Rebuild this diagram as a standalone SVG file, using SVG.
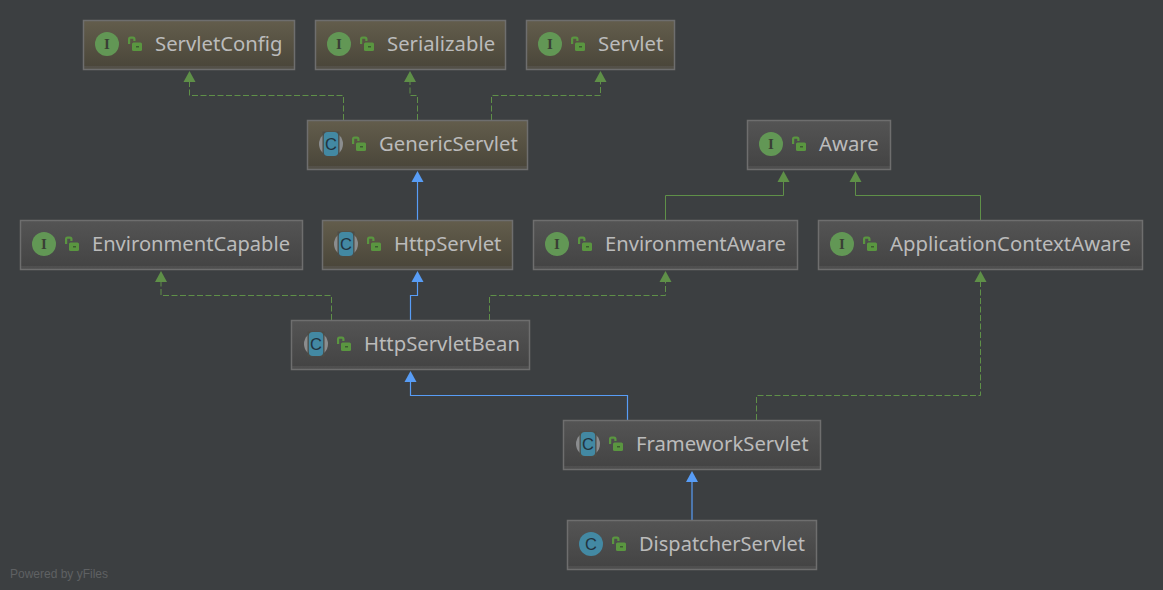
<svg xmlns="http://www.w3.org/2000/svg" width="1163" height="590" viewBox="0 0 1163 590">
<style>
text{font-family:"Noto Sans","DejaVu Sans",sans-serif}
.box{stroke:#6e6e6e;stroke-width:1.5}
.olive{fill:url(#og)}.grey{fill:url(#gg)}
.foot{fill:#6a6a6a;opacity:.3}
.n{font-size:20.3px;fill:#bbbbbb}
.li{font-family:"Liberation Serif",serif;font-size:15px;font-weight:bold;fill:#3a3f35;text-anchor:middle}
.lc{font-family:"Liberation Sans",sans-serif;font-size:16.500px;fill:#22333e;text-anchor:middle}
.impl{fill:none;stroke:#5f9048;stroke-width:1;stroke-dasharray:6 2.500}
.sub{fill:none;stroke:#5f9048;stroke-width:1}
.ext{fill:none;stroke:#589df6;stroke-width:1.2}
.ag{fill:#5f9048}.ab{fill:#589df6}
.wm{font-family:"Liberation Sans",sans-serif;font-size:12px;fill:#5f6163}
</style>
<defs>
<linearGradient id="og" x1="0" y1="0" x2="0" y2="1"><stop offset="0" stop-color="#635d4c"/><stop offset="1" stop-color="#494539"/></linearGradient>
<linearGradient id="gg" x1="0" y1="0" x2="0" y2="1"><stop offset="0" stop-color="#545454"/><stop offset="1" stop-color="#434343"/></linearGradient>
<symbol id="lock" overflow="visible"><path d="M1.100 7.500V2.500Q1.100 1.100 2.500 1.100H5Q6.400 1.100 6.400 2.500V4.500" fill="none" stroke="#5a9640" stroke-width="2.200"/><rect x="4" y="6" width="10" height="8.500" rx="1.500" fill="#5a9640"/><rect x="8" y="9.500" width="3" height="1.500" fill="#3c5c30"/></symbol>
<g id="iconI"><circle r="12" fill="#629755"/></g>
<g id="iconC"><circle r="12" fill="#4389a3"/></g>
<g id="iconA"><circle r="12" fill="#8b8d8f"/><rect x="-8.500" y="-12.500" width="17" height="25" fill="#4d4c46"/><rect x="-7.200" y="-12" width="14.400" height="24" rx="4" fill="#4389a3"/></g>
</defs>
<rect width="1163" height="590" fill="#3c3f41"/>
<g id="connectors">
<path class="impl" d="M343.500 120V95.500H189.500V82"/><path class="ag" d="M189.500 71l6 11h-12z"/>
<path class="impl" d="M417.500 120V95.500H410V82"/><path class="ag" d="M410 71l6 11h-12z"/>
<path class="impl" d="M491.500 120V95.500H600.500V82"/><path class="ag" d="M600.500 71l6 11h-12z"/>
<path class="ext" d="M417.500 220V182"/><path class="ab" d="M417.500 171l6 11h-12z"/>
<path class="sub" d="M665.500 220V195.500H783.500V182"/><path class="ag" d="M783.500 171l6 11h-12z"/>
<path class="sub" d="M980.500 220V195.500H855.500V182"/><path class="ag" d="M855.500 171l6 11h-12z"/>
<path class="impl" d="M331.500 320V295.500H161V282"/><path class="ag" d="M161 271l6 11h-12z"/>
<path class="ext" d="M410.500 320V295.500H417.500V282"/><path class="ab" d="M417.500 271l6 11h-12z"/>
<path class="impl" d="M489.500 320V295.500H665.500V282"/><path class="ag" d="M665.500 271l6 11h-12z"/>
<path class="ext" d="M627.500 420V395.500H410.500V382"/><path class="ab" d="M410.500 371l6 11h-12z"/>
<path class="impl" d="M756.500 420V395.500H980.500V282"/><path class="ag" d="M980.500 271l6 11h-12z"/>
<path class="ext" d="M692 520V482"/><path class="ab" d="M692 471l6 11h-12z"/>
</g>
<g id="ServletConfig"><rect class="box olive" x="83.500" y="20.500" width="211" height="49"/><rect class="foot" x="84" y="66" width="210" height="3"/><use href="#iconI" x="107" y="44"/><text class="li" x="107" y="49">I</text><use href="#lock" x="128" y="36.500"/><text class="n" x="155" y="51">ServletConfig</text></g>
<g id="Serializable"><rect class="box olive" x="315.500" y="20.500" width="190" height="49"/><rect class="foot" x="316" y="66" width="189" height="3"/><use href="#iconI" x="339" y="44"/><text class="li" x="339" y="49">I</text><use href="#lock" x="360" y="36.500"/><text class="n" x="387" y="51">Serializable</text></g>
<g id="Servlet"><rect class="box olive" x="526.500" y="20.500" width="148" height="49"/><rect class="foot" x="527" y="66" width="147" height="3"/><use href="#iconI" x="550" y="44"/><text class="li" x="550" y="49">I</text><use href="#lock" x="571" y="36.500"/><text class="n" x="598" y="51">Servlet</text></g>
<g id="GenericServlet"><rect class="box olive" x="307.500" y="120.500" width="220" height="49"/><rect class="foot" x="308" y="166" width="219" height="3"/><use href="#iconA" x="331" y="144"/><text class="lc" x="331" y="150">C</text><use href="#lock" x="352" y="136.500"/><text class="n" x="379" y="151">GenericServlet</text></g>
<g id="Aware"><rect class="box grey" x="747.500" y="120.500" width="143" height="49"/><rect class="foot" x="748" y="166" width="142" height="3"/><use href="#iconI" x="771" y="144"/><text class="li" x="771" y="149">I</text><use href="#lock" x="792" y="136.500"/><text class="n" x="819" y="151">Aware</text></g>
<g id="EnvironmentCapable"><rect class="box grey" x="20.500" y="220.500" width="282" height="49"/><rect class="foot" x="21" y="266" width="281" height="3"/><use href="#iconI" x="44" y="244"/><text class="li" x="44" y="249">I</text><use href="#lock" x="65" y="236.500"/><text class="n" x="92" y="251" textLength="198" lengthAdjust="spacingAndGlyphs">EnvironmentCapable</text></g>
<g id="HttpServlet"><rect class="box olive" x="322.500" y="220.500" width="190" height="49"/><rect class="foot" x="323" y="266" width="189" height="3"/><use href="#iconA" x="346" y="244"/><text class="lc" x="346" y="250">C</text><use href="#lock" x="367" y="236.500"/><text class="n" x="394" y="251">HttpServlet</text></g>
<g id="EnvironmentAware"><rect class="box grey" x="533.500" y="220.500" width="264" height="49"/><rect class="foot" x="534" y="266" width="263" height="3"/><use href="#iconI" x="557" y="244"/><text class="li" x="557" y="249">I</text><use href="#lock" x="578" y="236.500"/><text class="n" x="605" y="251" textLength="181" lengthAdjust="spacingAndGlyphs">EnvironmentAware</text></g>
<g id="ApplicationContextAware"><rect class="box grey" x="818.500" y="220.500" width="324" height="49"/><rect class="foot" x="819" y="266" width="323" height="3"/><use href="#iconI" x="842" y="244"/><text class="li" x="842" y="249">I</text><use href="#lock" x="863" y="236.500"/><text class="n" x="890" y="251" textLength="241" lengthAdjust="spacingAndGlyphs">ApplicationContextAware</text></g>
<g id="HttpServletBean"><rect class="box grey" x="291.500" y="320.500" width="238" height="49"/><rect class="foot" x="292" y="366" width="237" height="3"/><use href="#iconA" x="316" y="344"/><text class="lc" x="316" y="350">C</text><use href="#lock" x="337" y="336.500"/><text class="n" x="364" y="351">HttpServletBean</text></g>
<g id="FrameworkServlet"><rect class="box grey" x="563.500" y="420.500" width="257" height="49"/><rect class="foot" x="564" y="466" width="256" height="3"/><use href="#iconA" x="588" y="444"/><text class="lc" x="588" y="450">C</text><use href="#lock" x="609" y="436.500"/><text class="n" x="636" y="451">FrameworkServlet</text></g>
<g id="DispatcherServlet"><rect class="box grey" x="567.500" y="520.500" width="249" height="49"/><rect class="foot" x="568" y="566" width="248" height="3"/><use href="#iconC" x="591" y="544"/><text class="lc" x="591" y="550">C</text><use href="#lock" x="612" y="536.500"/><text class="n" x="639" y="551" textLength="166" lengthAdjust="spacingAndGlyphs">DispatcherServlet</text></g>
<text class="wm" x="10" y="578">Powered by yFiles</text>
</svg>
